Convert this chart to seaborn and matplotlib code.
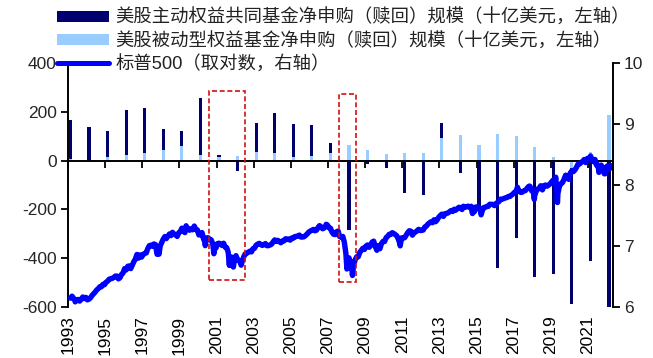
import numpy as np
import pandas as pd
import matplotlib
matplotlib.use("Agg")
import matplotlib.pyplot as plt
from matplotlib.patches import Rectangle, Patch
from matplotlib.lines import Line2D
from matplotlib.transforms import blended_transform_factory
import seaborn as sns

# ---- annual fund flows (USD bn), dated at each year end ----
years = list(range(1993, 2023))
active_flow = [167, 136, 120, 209, 215, 130, 121, 258, 23, -43,
               154, 196, 152, 145, 72, -286, -15, -29, -131, -143,
               156, -50, -205, -439, -319, -476, -464, -588, -412, -612]
passive_flow = [8, 3, 14, 24, 33, 43, 58, 24, 16, 19,
                35, 32, 14, 17, 33, 62, 43, 28, 32, 32,
                91, 106, 62, 107, 100, 56, 14, -30, 34, 187]

# ---- S&P 500 month-end closes, Dec 1993 .. Mar 2023 ----
sp_start = "1993-12-31"
sp_monthly = [
    466.45,
    481.61, 467.14, 445.77, 450.91, 456.50, 444.27, 458.26, 475.49, 462.69, 472.35, 453.69, 459.27,
    470.42, 487.39, 500.71, 514.71, 533.40, 544.75, 562.06, 561.88, 584.41, 581.50, 605.37, 615.93,
    636.02, 640.43, 645.50, 654.17, 669.12, 670.63, 639.95, 651.99, 687.33, 705.27, 757.02, 740.74,
    786.16, 790.82, 757.12, 801.34, 848.28, 885.14, 954.29, 899.47, 947.28, 914.62, 955.40, 970.43,
    980.28, 1049.34, 1101.75, 1111.75, 1090.82, 1133.84, 1120.67, 957.28, 1017.01, 1098.67, 1163.63, 1229.23,
    1279.64, 1238.33, 1286.37, 1335.18, 1301.84, 1372.71, 1328.72, 1320.41, 1282.71, 1362.93, 1388.91, 1469.25,
    1394.46, 1366.42, 1498.58, 1452.43, 1420.60, 1454.60, 1430.83, 1517.68, 1436.51, 1429.40, 1315.23, 1320.28,
    1366.01, 1239.94, 1160.33, 1249.46, 1255.82, 1224.42, 1211.23, 1133.58, 1040.94, 1059.78, 1139.45, 1148.08,
    1130.20, 1106.73, 1147.39, 1076.92, 1067.14, 989.82, 911.62, 916.07, 815.28, 885.76, 936.31, 879.82,
    855.70, 841.15, 848.18, 916.92, 963.59, 974.50, 990.31, 1008.01, 995.97, 1050.71, 1058.20, 1111.92,
    1131.13, 1144.94, 1126.21, 1107.30, 1120.68, 1140.84, 1101.72, 1104.24, 1114.58, 1130.20, 1173.82, 1211.92,
    1181.27, 1203.60, 1180.59, 1156.85, 1191.50, 1191.33, 1234.18, 1220.33, 1228.81, 1207.01, 1249.48, 1248.29,
    1280.08, 1280.66, 1294.83, 1310.61, 1270.09, 1270.20, 1276.66, 1303.82, 1335.85, 1377.94, 1400.63, 1418.30,
    1438.24, 1406.82, 1420.86, 1482.37, 1530.62, 1503.35, 1455.27, 1473.99, 1526.75, 1549.38, 1481.14, 1468.36,
    1378.55, 1330.63, 1322.70, 1385.59, 1400.38, 1280.00, 1267.38, 1282.83, 1166.36, 968.75, 896.24, 903.25,
    825.88, 735.09, 797.87, 872.81, 919.14, 919.32, 987.48, 1020.62, 1057.08, 1036.19, 1095.63, 1115.10,
    1073.87, 1104.49, 1169.43, 1186.69, 1089.41, 1030.71, 1101.60, 1049.33, 1141.20, 1183.26, 1180.55, 1257.64,
    1286.12, 1327.22, 1325.83, 1363.61, 1345.20, 1320.64, 1292.28, 1218.89, 1131.42, 1253.30, 1246.96, 1257.60,
    1312.41, 1365.68, 1408.47, 1397.91, 1310.33, 1362.16, 1379.32, 1406.58, 1440.67, 1412.16, 1416.18, 1426.19,
    1498.11, 1514.68, 1569.19, 1597.57, 1630.74, 1606.28, 1685.73, 1632.97, 1681.55, 1756.54, 1805.81, 1848.36,
    1782.59, 1859.45, 1872.34, 1883.95, 1923.57, 1960.23, 1930.67, 2003.37, 1972.29, 2018.05, 2067.56, 2058.90,
    1994.99, 2104.50, 2067.89, 2085.51, 2107.39, 2063.11, 2103.84, 1972.18, 1920.03, 2079.36, 2080.41, 2043.94,
    1940.24, 1932.23, 2059.74, 2065.30, 2096.95, 2098.86, 2173.60, 2170.95, 2168.27, 2126.15, 2198.81, 2238.83,
    2278.87, 2363.64, 2362.72, 2384.20, 2411.80, 2423.41, 2470.30, 2471.65, 2519.36, 2575.26, 2647.58, 2673.61,
    2823.81, 2713.83, 2640.87, 2648.05, 2705.27, 2718.37, 2816.29, 2901.52, 2913.98, 2711.74, 2760.17, 2506.85,
    2704.10, 2784.49, 2834.40, 2945.83, 2752.06, 2941.76, 2980.38, 2926.46, 2976.74, 3037.56, 3140.98, 3230.78,
    3225.52, 2954.22, 2584.59, 2912.43, 3044.31, 3100.29, 3271.12, 3500.31, 3363.00, 3269.96, 3621.63, 3756.07,
    3714.24, 3811.15, 3972.89, 4181.17, 4204.11, 4297.50, 4395.26, 4522.68, 4307.54, 4605.38, 4567.00, 4766.18,
    4515.55, 4373.94, 4530.41, 4131.93, 4132.15, 3785.38, 4130.29, 3955.00, 3585.62, 3871.98, 4080.11, 3839.50,
    4076.60, 3970.15, 4109.31,
]

# intra-month highs and lows of the index
sp_extreme_dates = ["1994-04-04", "1998-10-08", "2000-03-24", "2000-09-01", "2001-04-04",
                    "2001-09-21", "2002-07-23", "2002-10-09", "2003-03-11", "2007-10-09",
                    "2008-11-20", "2009-03-09", "2010-07-02", "2011-10-03", "2015-08-25",
                    "2016-02-11", "2018-01-26", "2018-09-20", "2018-12-24", "2020-02-19",
                    "2020-03-23", "2022-01-03", "2022-06-16", "2022-10-12"]
sp_extreme_values = [438.92, 959.44, 1527.46, 1520.77, 1103.25,
                     965.80, 797.70, 776.76, 800.73, 1565.15,
                     752.44, 676.53, 1022.58, 1099.23, 1867.61,
                     1829.08, 2872.87, 2930.75, 2351.10, 3386.15,
                     2237.40, 4796.56, 3666.77, 3577.03]

x_tick_years = list(range(1993, 2022, 2))
left_ticks = [-600, -400, -200, 0, 200, 400]
right_ticks = [6, 7, 8, 9, 10]

labels = ["美股主动权益共同基金净申购（赎回）规模（十亿美元，左轴）",
          "美股被动型权益基金净申购（赎回）规模（十亿美元，左轴）",
          "标普500（取对数，右轴）"]

# highlighted periods: (start, end, low, high) on the left axis
highlight_boxes = [("2001-06-25", "2003-05-30", -489, 284),
                   ("2008-06-20", "2009-05-20", -496, 273)]

DARK = "#00006E"
LIGHT = "#99CCFF"
LINE = "#0000FF"
BOX = "#D01010"


def decimal_year(ts):
    ts = pd.Timestamp(ts)
    start = pd.Timestamp(ts.year, 1, 1)
    end = pd.Timestamp(ts.year + 1, 1, 1)
    return ts.year + (ts - start) / (end - start)


sns.set_theme(style="white")
plt.rcParams["font.family"] = ["Liberation Sans", "Noto Sans CJK SC"]
plt.rcParams["axes.unicode_minus"] = False

# assemble the index series
monthly_dates = pd.date_range(sp_start, periods=len(sp_monthly), freq="ME")
sp = pd.DataFrame({"date": list(monthly_dates) + list(pd.to_datetime(sp_extreme_dates)),
                   "close": sp_monthly + sp_extreme_values}).sort_values("date")
sp["x"] = sp["date"].map(decimal_year)
sp["log_close"] = np.log(sp["close"])

flows = pd.DataFrame({"year": years, "active": active_flow, "passive": passive_flow})
flows["x"] = [decimal_year(f"{y}-12-31") for y in years]

fig = plt.figure(figsize=(6.53, 3.58), dpi=100)
ax = fig.add_axes([68 / 653, 1 - 307 / 358, (613 - 68) / 653, (307 - 63) / 358])

sns.barplot(data=flows, x="x", y="active", native_scale=True, width=0.17,
            color=DARK, saturation=1, linewidth=0, errorbar=None, ax=ax)
sns.barplot(data=flows, x="x", y="passive", native_scale=True, width=0.17,
            color=LIGHT, saturation=1, linewidth=0, errorbar=None, ax=ax)

ax2 = ax.twinx()
sns.lineplot(data=sp, x="x", y="log_close", color=LINE, linewidth=3.9,
             estimator=None, sort=False, ax=ax2)

x_lo, x_hi = 1993.865, 2023.215
ax.set_xlim(x_lo, x_hi)
ax.set_ylim(-600, 400)
ax2.set_ylim(6, 10)

ax.set_xlabel("")
ax.set_ylabel("")
ax2.set_xlabel("")
ax2.set_ylabel("")

# spines: left axis, right axis, category axis crossing at zero
for s in ["top", "right"]:
    ax.spines[s].set_visible(False)
ax.spines["bottom"].set_position(("data", 0))
for s in ["top", "left", "bottom"]:
    ax2.spines[s].set_visible(False)
for sp_name, a in [("left", ax), ("bottom", ax), ("right", ax2)]:
    a.spines[sp_name].set_color("black")
    a.spines[sp_name].set_linewidth(1.4)
    a.spines[sp_name].set_zorder(5)

tick_pos = [y + 0.865 for y in x_tick_years]
ax.set_xticks(tick_pos)
ax.tick_params(axis="x", direction="out", length=5, width=1.3, color="black",
               labelbottom=False, bottom=True)
ax.set_yticks(left_ticks)
ax.tick_params(axis="y", direction="out", length=5, width=1.3, color="black",
               labelsize=12.5, pad=3, left=True)
ax2.set_yticks(right_ticks)
ax2.tick_params(axis="y", direction="out", length=5, width=1.3, color="black",
                labelsize=12.5, pad=3, right=True)
ax.grid(False)
ax2.grid(False)

xt = blended_transform_factory(ax.transData, ax.transAxes)
for pos, yr in zip(tick_pos, x_tick_years):
    ax.text(pos, -0.035, str(yr), transform=xt, rotation=90, ha="center", va="top",
            fontsize=12.5, color="black")

for start, end, lo, hi in highlight_boxes:
    x0, x1 = decimal_year(start), decimal_year(end)
    rect = Rectangle((x0, lo), x1 - x0, hi - lo, transform=ax.transData,
                     fill=False, edgecolor=BOX, linewidth=1.2,
                     linestyle=(0, (3, 1.6)), clip_on=False, zorder=6)
    ax2.add_patch(rect)

handles = [Patch(facecolor=DARK, edgecolor="none"),
           Patch(facecolor=LIGHT, edgecolor="none"),
           Line2D([], [], color=LINE, linewidth=3.6)]
leg = fig.legend(handles, labels, loc="upper left",
                 bbox_to_anchor=(57 / 653, 1 - 9 / 358), bbox_transform=fig.transFigure,
                 frameon=False, fontsize=13.2, handlelength=2.85, handleheight=0.55,
                 handletextpad=0.35, labelspacing=0.28, borderpad=0, borderaxespad=0)
for t in leg.get_texts():
    t.set_color("#222222")

fig.savefig("out.png", dpi=100)
